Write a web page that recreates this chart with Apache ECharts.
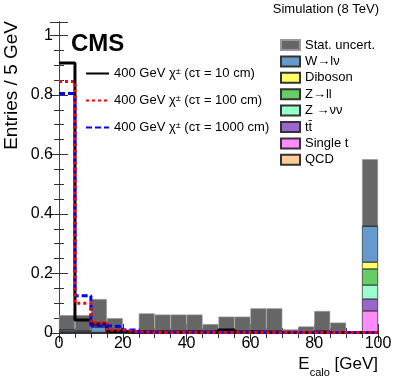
<!DOCTYPE html>
<html>
<head>
<meta charset="utf-8">
<script src="https://cdn.jsdelivr.net/npm/echarts@6/dist/echarts.min.js"></script>
<style>
  html, body { margin: 0; padding: 0; background: #fff; }
  #chart { width: 399px; height: 383px; }
</style>
</head>
<body>
<div id="chart"></div>
<script>
// bin edges in GeV (5 GeV bins, last bin holds the overflow)
var binEdges = [0, 5, 10, 15, 20, 25, 30, 35, 40, 45, 50, 55, 60, 65, 70, 75, 80, 85, 90, 95, 100];

// signal, normalised to unit area
var sig10   = [0.907, 0.044, 0.030, 0.006, 0.003, 0.003, 0.003, 0.003, 0.003, 0.003, 0.010, 0.003, 0.002, 0.002, 0.002, 0.002, 0.002, 0.002, 0.002, 0.002];
var sig100  = [0.845, 0.100, 0.034, 0.010, 0.004, 0.002, 0.002, 0.002, 0.002, 0.002, 0.002, 0.002, 0.002, 0.002, 0.002, 0.002, 0.002, 0.002, 0.002, 0.002];
var sig1000 = [0.805, 0.125, 0.025, 0.021, 0.010, 0.002, 0.002, 0.002, 0.002, 0.002, 0.002, 0.002, 0.002, 0.002, 0.002, 0.002, 0.002, 0.002, 0.002, 0.002];

// backgrounds (stacked, bottom first)
var singleT = [0, 0, 0, 0, 0, 0, 0, 0, 0, 0, 0, 0, 0, 0, 0, 0, 0, 0, 0, 0.074];
var ttbar   = [0, 0, 0, 0, 0, 0, 0, 0, 0, 0, 0, 0, 0, 0, 0, 0, 0, 0, 0, 0.040];
var znunu   = [0.002, 0.001, 0.001, 0.001, 0, 0, 0, 0, 0, 0, 0, 0, 0, 0, 0, 0, 0, 0, 0, 0.047];
var zll     = [0.001, 0.001, 0, 0, 0, 0, 0, 0, 0, 0, 0, 0, 0, 0, 0, 0, 0, 0, 0, 0.054];
var diboson = [0.002, 0.001, 0.001, 0, 0, 0, 0, 0, 0, 0, 0, 0, 0, 0, 0, 0, 0, 0, 0, 0.023];
var wlnu    = [0.006, 0.004, 0.018, 0.004, 0, 0.006, 0.005, 0.005, 0.006, 0.003, 0.005, 0.005, 0.008, 0.008, 0.001, 0.003, 0.008, 0.003, 0, 0.121];
var qcd     = [0, 0, 0, 0, 0, 0, 0, 0, 0, 0, 0, 0, 0, 0, 0, 0, 0, 0, 0, 0];

// upper edge of the stat. uncertainty band
var statHigh = [0.060, 0.060, 0.114, 0.050, 0, 0.066, 0.062, 0.062, 0.062, 0.030, 0.055, 0.055, 0.083, 0.083, 0.012, 0.022, 0.074, 0.035, 0, 0.584];

var FONT = "'Liberation Sans', Arial, Helvetica, sans-serif";
var binCats = binEdges.slice(0, -1).map(String);

function stepData(vals) {
  var d = vals.map(function (v, i) { return [binEdges[i], v]; });
  d.push([binEdges[binEdges.length - 1], vals[vals.length - 1]]);
  return d;
}

function sigName(ct) {
  return '400 GeV \u03c7{s|\u00b1} (c\u03c4 = ' + ct + ' cm)';
}

var tickStyle = { show: true, inside: true, length: 9, lineStyle: { color: '#333', width: 1 } };
var minorStyle = { show: true, splitNumber: 4, length: 5, lineStyle: { color: '#333', width: 1 } };
var lineAxis = { show: true, lineStyle: { color: '#444', width: 1 } };

var chart = echarts.init(document.getElementById('chart'));

function bgBar(name, vals, color) {
  return {
    name: name, type: 'bar', xAxisIndex: 2, stack: 'bg', data: vals,
    barCategoryGap: '0%', barGap: '-100%',
    itemStyle: { color: color, borderColor: '#333', borderWidth: 0.6 }
  };
}

function sigLine(name, vals, color, type, z) {
  return {
    name: name, type: 'line', step: 'end', data: stepData(vals), z: z,
    symbol: 'none',
    lineStyle: { color: color, width: 3, type: type }, itemStyle: { color: color }
  };
}

var option = {
  animation: false,
  grid: { left: 59, right: 21, top: 22, bottom: 50, containLabel: false },
  xAxis: [
    {
      type: 'value', min: 0, max: 100, interval: 20, position: 'bottom',
      axisLine: lineAxis, axisTick: tickStyle, minorTick: minorStyle, splitLine: { show: false },
      axisLabel: { color: '#000', fontSize: 16, fontFamily: FONT, margin: 3 }
    },
    {
      type: 'value', min: 0, max: 100, interval: 20, position: 'top',
      axisLine: lineAxis, axisTick: tickStyle, minorTick: minorStyle, splitLine: { show: false },
      axisLabel: { show: false }
    },
    { type: 'category', data: binCats, show: false, boundaryGap: true }
  ],
  yAxis: [
    {
      type: 'value', min: 0, max: 1.045, interval: 0.2, position: 'left',
      axisLine: lineAxis, axisTick: tickStyle, minorTick: minorStyle, splitLine: { show: false },
      axisLabel: {
        color: '#000', fontSize: 16, fontFamily: FONT, margin: 6, showMaxLabel: false,
        formatter: function (v) { return String(Math.round(v * 10) / 10); }
      }
    },
    {
      type: 'value', min: 0, max: 1.045, interval: 0.2, position: 'right',
      axisLine: lineAxis, axisTick: tickStyle, minorTick: minorStyle, splitLine: { show: false },
      axisLabel: { show: false }
    }
  ],
  legend: [
    {
      left: 80, top: 62, orient: 'vertical', itemWidth: 23, itemHeight: 14, itemGap: 14,
      itemStyle: { opacity: 0 },
      textStyle: {
        fontSize: 13, fontFamily: FONT, color: '#000',
        rich: { s: { fontSize: 9, fontFamily: FONT, verticalAlign: 'top', lineHeight: 9 } }
      },
      data: [sigName(10), sigName(100), sigName(1000)]
    },
    {
      left: 275, top: 33.5, orient: 'vertical', itemWidth: 19, itemHeight: 10, itemGap: 3.4,
      icon: 'rect',
      textStyle: { fontSize: 13, fontFamily: FONT, color: '#000' },
      data: ['Stat. uncert.', 'W\u2192l\u03bd', 'Diboson', 'Z\u2192ll', 'Z \u2192\u03bd\u03bd', 't\u0074\u0304', 'Single t', 'QCD']
    }
  ],
  graphic: [
    {
      type: 'text', x: 379, y: 9,
      style: { text: 'Simulation (8 TeV)', font: '13px ' + FONT, fill: '#000', textAlign: 'right', textVerticalAlign: 'middle' }
    },
    {
      type: 'text', x: 71, y: 44,
      style: { text: 'CMS', font: 'bold 24px ' + FONT, fill: '#000', textAlign: 'left', textVerticalAlign: 'middle' }
    },
    {
      type: 'text', x: 12, y: 21, rotation: Math.PI / 2,
      style: { text: 'Entries / 5 GeV', font: '19px ' + FONT, fill: '#000', textAlign: 'right', textVerticalAlign: 'middle' }
    },
    {
      type: 'text', x: 378, y: 367,
      style: {
        text: '{a|E}{b|calo}{a| [GeV]}', textAlign: 'right', textVerticalAlign: 'middle',
        rich: {
          a: { fontSize: 17, fontFamily: FONT, fill: '#000', lineHeight: 22, verticalAlign: 'top' },
          b: { fontSize: 11, fontFamily: FONT, fill: '#000', lineHeight: 12, verticalAlign: 'bottom' }
        }
      }
    }
  ],
  series: [
    {
      name: 'Stat. uncert.', type: 'bar', xAxisIndex: 2, data: statHigh,
      barCategoryGap: '0%', barGap: '-100%',
      itemStyle: { color: '#666', borderColor: '#999', borderWidth: 0.6 }
    },
    bgBar('Single t', singleT, '#ff8cff'),
    bgBar('t\u0074\u0304', ttbar, '#9966cc'),
    bgBar('Z \u2192\u03bd\u03bd', znunu, '#99ffcc'),
    bgBar('Z\u2192ll', zll, '#66cc66'),
    bgBar('Diboson', diboson, '#ffff66'),
    bgBar('W\u2192l\u03bd', wlnu, '#6699cc'),
    bgBar('QCD', qcd, '#ffcc99'),
    sigLine(sigName(10), sig10, '#000', 'solid', 5),
    sigLine(sigName(1000), sig1000, '#0000ff', [6, 3], 6),
    sigLine(sigName(100), sig100, '#ff0000', [3, 3], 7)
  ]
};

chart.setOption(option);
</script>
</body>
</html>
